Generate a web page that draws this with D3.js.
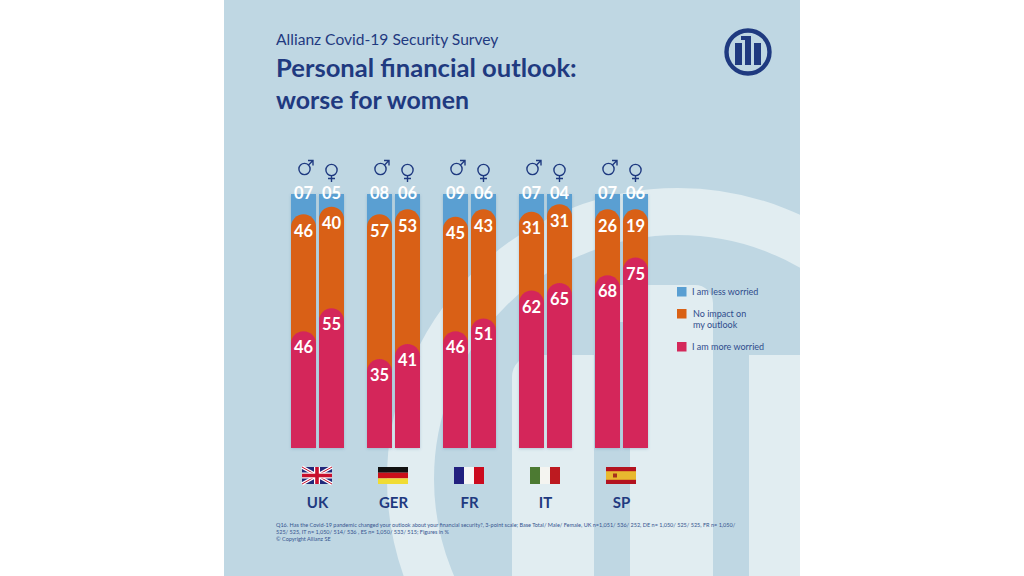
<!doctype html>
<html lang="en">
<head>
<meta charset="utf-8">
<title>Personal financial outlook</title>
<script src="https://d3js.org/d3.v7.min.js"></script>
<style>
  html, body { margin: 0; background: #fff; }
  svg { display: block; }
  text { font-family: Lato, "Open Sans", sans-serif; }
</style>
</head>
<body>
<div id="chart"></div>
<script>
var countries = ["UK", "GER", "FR", "IT", "SP"];
var genders = ["male", "female"];

// male, female per country, in %
var moreWorried = [46, 55, 35, 41, 46, 51, 62, 65, 68, 75];
var noImpact = [46, 40, 57, 53, 45, 43, 31, 31, 26, 19];
var lessWorried = ["07", "05", "08", "06", "09", "06", "07", "04", "07", "06"];

var legendLabels = [["I am less worried"], ["No impact on", "my outlook"], ["I am more worried"]];
var footnotes = [
  "Q16. Has the Covid-19 pandemic changed your outlook about your financial security?, 3-point scale; Base Total/ Male/ Female, UK n=1,051/ 536/ 252, DE n= 1,050/ 525/ 525, FR n= 1,050/",
  "525/ 525, IT n= 1,050/ 514/ 536 , ES n= 1,050/ 533/ 515; Figures in %",
  "\u00A9 Copyright Allianz SE"
];

var navy = "#1f3a80";
var panelBlue = "#bfd7e3";
var panelLight = "#e1edf1";
var blue = "#5a9fd2";
var orange = "#d96115";
var pink = "#d4285a";

var svg = d3.select("#chart").append("svg").attr("width", 1024).attr("height", 576);

var defs = svg.append("defs");
defs.append("clipPath").attr("id", "panel")
  .append("rect").attr("x", 224).attr("y", 0).attr("width", 576).attr("height", 576);
var shadow = defs.append("filter").attr("id", "soft")
  .attr("x", "-20%").attr("y", "-5%").attr("width", "140%").attr("height", "110%");
shadow.append("feDropShadow").attr("dx", 0).attr("dy", 1).attr("stdDeviation", 1.5)
  .attr("flood-color", "#5a7fa5").attr("flood-opacity", 0.35);

// background: blown up logo
var bg = svg.append("g").attr("clip-path", "url(#panel)");
bg.append("rect").attr("x", 224).attr("y", 0).attr("width", 576).attr("height", 576).attr("fill", panelBlue);
bg.append("circle").attr("cx", 678).attr("cy", 479).attr("r", 267.5)
  .attr("fill", "none").attr("stroke", panelLight).attr("stroke-width", 47);
bg.append("path").attr("fill", panelLight).attr("d", "M512 576V377a22 22 0 0 1 22-22H594V576Z");
bg.append("path").attr("fill", panelLight).attr("d", "M600 322V285H695a18 18 0 0 1 18 18V576H630V322Z");
bg.append("rect").attr("x", 749).attr("y", 355).attr("width", 51).attr("height", 221).attr("fill", panelLight);

// scales
var x = d3.scalePoint().domain(countries).range([291, 595]);
var xGender = d3.scaleBand().domain(genders).range([0, 53]).paddingInner(0.107);
var y = d3.scaleLinear().domain([0, 100]).range([448, 194]);
var barW = xGender.bandwidth();

var bars = [];
countries.forEach(function (c, i) {
  genders.forEach(function (g, j) {
    var k = i * 2 + j;
    bars.push({country: c, gender: g, more: moreWorried[k], none: noImpact[k], less: lessWorried[k]});
  });
});

function barX(d) { return x(d.country) + xGender(d.gender); }

// flat bottom, round top
function roundTop(d, top) {
  var r = barW / 2;
  return "M" + barX(d) + " " + y(0) + "V" + (top + r) +
    "a" + r + " " + r + " 0 0 1 " + barW + " 0V" + y(0) + "Z";
}

var bar = svg.append("g").selectAll("g").data(bars).enter().append("g").attr("filter", "url(#soft)");
bar.append("rect").attr("x", barX).attr("y", y(100)).attr("width", barW)
  .attr("height", y(0) - y(100)).attr("fill", blue);
bar.append("path").attr("fill", orange).attr("d", function (d) { return roundTop(d, y(d.more + d.none)); });
bar.append("path").attr("fill", pink).attr("d", function (d) { return roundTop(d, y(d.more)); });

// value labels
var labels = svg.append("g").attr("fill", "#fff").attr("font-weight", 700).attr("font-size", 16.5).attr("text-anchor", "middle");
labels.selectAll(".less").data(bars).enter().append("text").attr("class", "less")
  .attr("x", function (d) { return barX(d) + barW / 2; }).attr("y", 198.5)
  .text(function (d) { return d.less; });
labels.selectAll(".none").data(bars).enter().append("text").attr("class", "none")
  .attr("x", function (d) { return barX(d) + barW / 2; })
  .attr("y", function (d) { return y(d.more + d.none) + 22.5; })
  .text(function (d) { return d.none; });
labels.selectAll(".more").data(bars).enter().append("text").attr("class", "more")
  .attr("x", function (d) { return barX(d) + barW / 2; })
  .attr("y", function (d) { return y(d.more) + 22; })
  .text(function (d) { return d.more; });

// gender signs
var signs = svg.append("g").attr("fill", "none").attr("stroke", navy).attr("stroke-width", 1.4);
bars.forEach(function (d) {
  var cx = barX(d) + barW / 2;
  var g = signs.append("g");
  if (d.gender == "male") {
    g.attr("transform", "translate(" + (cx + 1) + ",169)");
    g.append("circle").attr("r", 5.6);
    g.append("path").attr("d", "M4 -4L8.5 -8.5M3.5 -8.5H8.5V-3.5");
  } else {
    g.attr("transform", "translate(" + cx + ",170)");
    g.append("circle").attr("r", 5.6);
    g.append("path").attr("d", "M0 5.6V12M-3.5 8.5H3.5");
  }
});

// flags
function flag(c, cx) {
  var g = svg.append("g").attr("transform", "translate(" + (cx - 15.5) + ",467)");
  function r(fill, rx, ry, w, h) {
    g.append("rect").attr("x", rx).attr("y", ry).attr("width", w).attr("height", h).attr("fill", fill);
  }
  if (c == "UK") {
    r("#22287a", 0, 0, 30, 17);
    g.append("path").attr("d", "M0 0L30 17M30 0L0 17").attr("stroke", "#fff").attr("stroke-width", 3.2);
    g.append("path").attr("d", "M0 0L30 17M30 0L0 17").attr("stroke", "#c8102e").attr("stroke-width", 1);
    r("#fff", 12, 0, 6, 17);
    r("#fff", 0, 5.5, 30, 6);
    r("#c8102e", 13.2, 0, 3.6, 17);
    r("#c8102e", 0, 6.7, 30, 3.6);
  } else if (c == "GER") {
    r("#111", 0, 0, 30, 5.7);
    r("#c9101a", 0, 5.7, 30, 5.7);
    r("#f0dc34", 0, 11.4, 30, 5.6);
  } else if (c == "FR") {
    r("#22207f", 0, 0, 10, 17);
    r("#f6f6f6", 10, 0, 10, 17);
    r("#cc0a1e", 20, 0, 10, 17);
  } else if (c == "IT") {
    r("#4c7a32", 0, 0, 10, 17);
    r("#f4f4f0", 10, 0, 10, 17);
    r("#bd1a20", 20, 0, 10, 17);
  } else {
    r("#b3121f", 0, 0, 30, 17);
    r("#e8b92f", 0, 4.2, 30, 8.6);
    r("#a8321c", 7, 6.5, 4, 4);
  }
}
countries.forEach(function (c) { flag(c, x(c) + 26.5); });

svg.append("g").selectAll("text").data(countries).enter().append("text")
  .attr("x", function (c) { return x(c) + 26.5; }).attr("y", 507.5)
  .attr("text-anchor", "middle").attr("font-weight", 700).attr("font-size", 15).attr("fill", navy)
  .text(function (c) { return c; });

// title
svg.append("text").attr("x", 276).attr("y", 45).attr("font-size", 15.6).attr("fill", navy)
  .text("Allianz Covid-19 Security Survey");
svg.append("text").attr("x", 276).attr("y", 77).attr("font-size", 25.6).attr("font-weight", 700).attr("fill", navy)
  .text("Personal financial outlook:");
svg.append("text").attr("x", 276).attr("y", 109).attr("font-size", 24.9).attr("font-weight", 700).attr("fill", navy)
  .text("worse for women");

// logo
var logo = svg.append("g").attr("transform", "translate(748,52)").attr("fill", navy);
logo.append("circle").attr("r", 21.5).attr("fill", "none").attr("stroke", navy).attr("stroke-width", 4.4);
logo.append("rect").attr("x", -13).attr("y", -9).attr("width", 7).attr("height", 22);
logo.append("path").attr("d", "M-3 13V-12H-7V-16H3V13Z");
logo.append("rect").attr("x", 6).attr("y", -9).attr("width", 7).attr("height", 22);

// legend
var legendY = [287, 309, 342];
var legendColor = [blue, orange, pink];
var legend = svg.append("g").selectAll("g").data(legendLabels).enter().append("g");
legend.append("rect").attr("x", 677).attr("y", function (d, i) { return legendY[i]; })
  .attr("width", 9.5).attr("height", 9.5).attr("fill", function (d, i) { return legendColor[i]; });
legend.each(function (d, i) {
  d3.select(this).selectAll("text").data(d).enter().append("text")
    .attr("x", d.length > 1 ? 693 : 692)
    .attr("y", function (t, j) { return legendY[i] + 7.8 + j * 11.3; })
    .attr("font-size", 9).attr("fill", "#2f4c8c")
    .text(function (t) { return t; });
});

// footnote
svg.append("g").selectAll("text").data(footnotes).enter().append("text")
  .attr("x", 276).attr("y", function (d, i) { return 527 + i * 7; })
  .attr("font-size", 5.53).attr("fill", "#35548f")
  .text(function (d) { return d; });
</script>
</body>
</html>
